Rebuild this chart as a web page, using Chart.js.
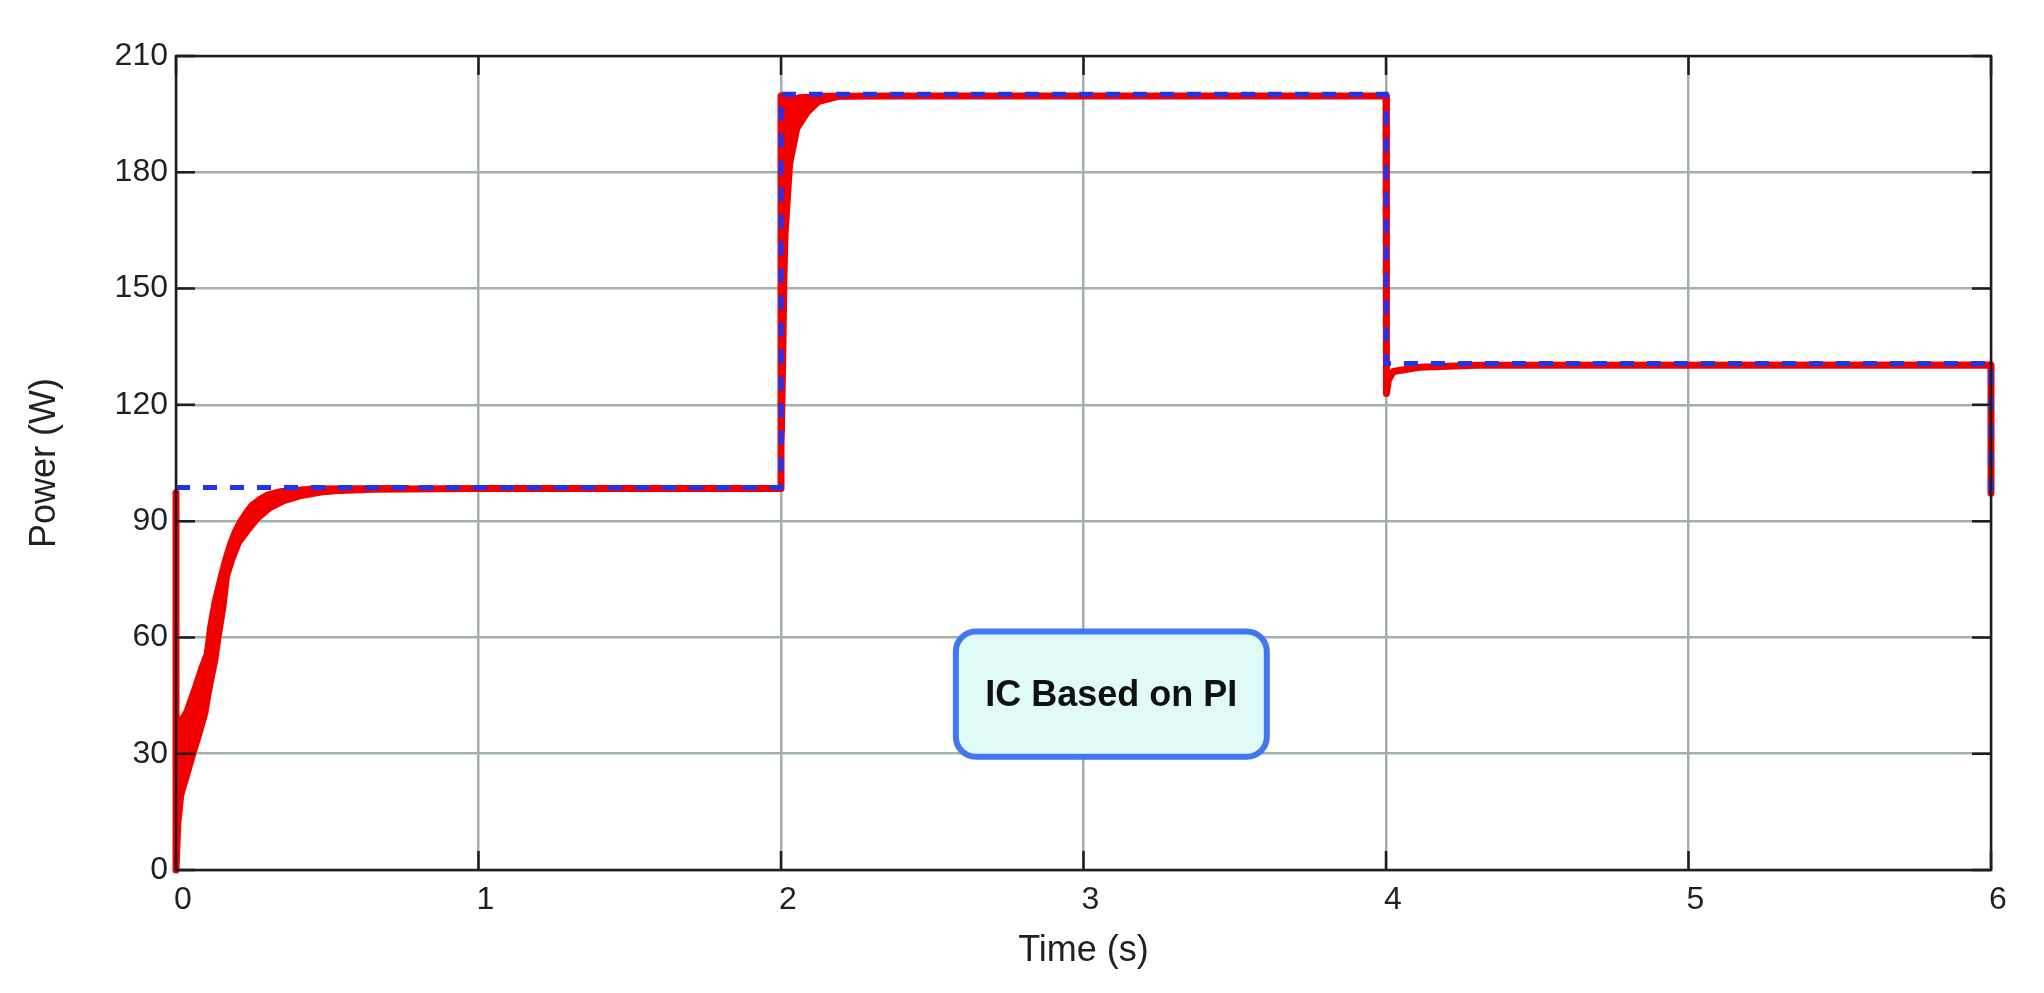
<!DOCTYPE html>
<html>
<head>
<meta charset="utf-8">
<script src="https://cdn.jsdelivr.net/npm/chart.js@4"></script>
<style>
  html, body { margin: 0; padding: 0; background: #fff; }
  canvas { display: block; }
</style>
</head>
<body>
<canvas id="grafico" width="2044" height="993"></canvas>
<script>
// ticks
const xTicks = [0, 1, 2, 3, 4, 5, 6];
const yTicks = [0, 30, 60, 90, 120, 150, 180, 210];

// reference power (blue dashed)
const refTime = [0, 2, 2, 4, 4, 6, 6];
const refPower = [98.7, 98.7, 200.1, 200.1, 130.7, 130.7, 96.3];

// measured power (red), middle of the ripple
const measTime = [0, 0, 0.006, 0.03, 0.07, 0.12, 0.154, 0.195, 0.265, 0.345, 0.44, 0.65, 1.0, 2.0,
  2.0, 2.008, 2.02, 2.035, 2.06, 2.15, 2.4, 4.0,
  4.0, 4.003, 4.008, 4.024, 4.11, 4.3, 6.0, 6.0];
const measPower = [97.3, 0, 12, 30, 44, 58, 74, 85.5, 92.5, 95.8, 97.6, 98.2, 98.4, 98.4,
  199.7, 199.7, 195.7, 198.5, 199.2, 199.6, 199.7, 199.7,
  131, 122.9, 126.4, 128.6, 129.7, 130.2, 130.3, 97.2];

// ripple envelope at start-up: upper edge, then lower edge back
const band0Time = [0.004, 0.012, 0.026, 0.053, 0.075, 0.092, 0.103, 0.119, 0.138, 0.152, 0.169,
  0.186, 0.203, 0.225, 0.242, 0.27, 0.298, 0.343, 0.45, 0.77,
  0.765, 0.59, 0.481, 0.415, 0.36, 0.316, 0.277, 0.25, 0.217, 0.195, 0.178, 0.167,
  0.151, 0.14, 0.118, 0.107, 0.085, 0.068, 0.046, 0.024, 0.014, 0.005];
const band0Power = [43, 39.5, 41.3, 47.3, 52.5, 55.9, 62.8, 69.7, 75.7, 80.0, 84.3,
  87.7, 90.3, 92.9, 94.6, 96.3, 97.6, 98.5, 99.2, 99.3,
  97.9, 97.5, 96.6, 95.7, 94.4, 92.7, 90.1, 87.5, 84.1, 79.8, 75.5, 67.9,
  60.2, 54.2, 45.6, 40.4, 34.4, 30.1, 24.1, 18.5, 16, 5];

// ripple envelope after the step at t = 2 s (lower edge)
const band2Time = [2.0, 2.0, 2.3, 2.3, 2.195, 2.129, 2.096, 2.063, 2.04, 2.034, 2.025, 2.021, 2.018, 2.013, 2.0];
const band2Power = [98.4, 199.7, 199.7, 199.0, 198.8, 197.4, 195, 191, 182, 175, 164, 152, 135, 113.5, 98.4];

// annotation box (data coords)
const notaTexto = 'IC Based on PI';
const notaX = [2.578, 3.606];
const notaY = [29.2, 61.5];

const fuente = "'Liberation Sans', Arial, sans-serif";

function puntos(xs, ys) {
  return xs.map((x, i) => ({ x: x, y: ys[i] }));
}

// marco, ticks interiores y nota
const marco = {
  id: 'marco',
  afterDatasetsDraw(chart) {
    const { ctx, chartArea: a, scales: { x, y } } = chart;
    ctx.save();
    ctx.strokeStyle = '#1c1f1e';
    ctx.lineWidth = 2.5;
    ctx.beginPath();
    xTicks.forEach(v => {
      const px = x.getPixelForValue(v);
      ctx.moveTo(px, a.bottom); ctx.lineTo(px, a.bottom - 19);
      ctx.moveTo(px, a.top); ctx.lineTo(px, a.top + 19);
    });
    yTicks.forEach(v => {
      const py = y.getPixelForValue(v);
      ctx.moveTo(a.left, py); ctx.lineTo(a.left + 19, py);
      ctx.moveTo(a.right, py); ctx.lineTo(a.right - 19, py);
    });
    ctx.stroke();
    ctx.strokeRect(a.left, a.top, a.right - a.left, a.bottom - a.top);

    // nota
    const x0 = x.getPixelForValue(notaX[0]), x1 = x.getPixelForValue(notaX[1]);
    const y0 = y.getPixelForValue(notaY[1]), y1 = y.getPixelForValue(notaY[0]);
    ctx.beginPath();
    ctx.roundRect(x0, y0, x1 - x0, y1 - y0, 20);
    ctx.fillStyle = '#e0faf8';
    ctx.fill();
    ctx.lineWidth = 6;
    ctx.strokeStyle = '#4177f0';
    ctx.stroke();
    ctx.fillStyle = '#111';
    ctx.font = 'bold 36px ' + fuente;
    ctx.textAlign = 'center';
    ctx.textBaseline = 'alphabetic';
    ctx.fillText(notaTexto, (x0 + x1) / 2, (y0 + y1) / 2 + 12);
    ctx.restore();
  }
};

const rojo = '#f20000';
const azul = '#2233ee';

function banda(label, xs, ys) {
  return {
    label: label,
    data: puntos(xs, ys),
    borderColor: rojo,
    backgroundColor: rojo,
    borderWidth: 0,
    pointRadius: 0,
    fill: 'shape',
    tension: 0,
    clip: 10
  };
}

new Chart(document.getElementById('grafico'), {
  type: 'line',
  data: {
    datasets: [
      {
        label: 'Reference',
        data: puntos(refTime, refPower),
        borderColor: azul,
        borderWidth: 5,
        borderDash: [14, 13],
        borderCapStyle: 'butt',
        borderJoinStyle: 'miter',
        pointRadius: 0,
        fill: false,
        tension: 0,
        clip: 10
      },
      {
        label: 'Power',
        data: puntos(measTime, measPower),
        borderColor: rojo,
        borderWidth: 7,
        borderCapStyle: 'round',
        borderJoinStyle: 'round',
        pointRadius: 0,
        fill: false,
        tension: 0,
        clip: 10
      },
      banda('ripple0', band0Time, band0Power),
      banda('ripple2', band2Time, band2Power)
    ]
  },
  options: {
    responsive: false,
    animation: false,
    devicePixelRatio: 1,
    layout: { padding: { left: 0, right: 53, top: 56, bottom: 0 } },
    plugins: { legend: { display: false }, tooltip: { enabled: false } },
    scales: {
      x: {
        type: 'linear',
        min: 0,
        max: 6,
        afterBuildTicks: s => { s.ticks = xTicks.map(v => ({ value: v })); },
        afterFit: s => { s.height = 123; },
        grid: { color: '#a3afad', lineWidth: 2.5, drawTicks: false },
        border: { display: false },
        ticks: { color: '#1e2220', font: { family: fuente, size: 32 }, padding: 11, labelOffset: 7, maxRotation: 0 },
        title: { display: true, text: 'Time (s)', color: '#1e2220', font: { family: fuente, size: 36 }, padding: { top: 26, bottom: 20 } }
      },
      y: {
        type: 'linear',
        min: 0,
        max: 210,
        afterBuildTicks: s => { s.ticks = yTicks.map(v => ({ value: v })); },
        afterFit: s => { s.width = 176; },
        grid: { color: '#a3afad', lineWidth: 2.5, drawTicks: false },
        border: { display: false },
        ticks: { color: '#1e2220', font: { family: fuente, size: 32 }, padding: 8 },
        title: { display: true, text: 'Power (W)', color: '#1e2220', font: { family: fuente, size: 36 }, padding: { top: 23, bottom: 0 } }
      }
    }
  },
  plugins: [marco]
});
</script>
</body>
</html>
